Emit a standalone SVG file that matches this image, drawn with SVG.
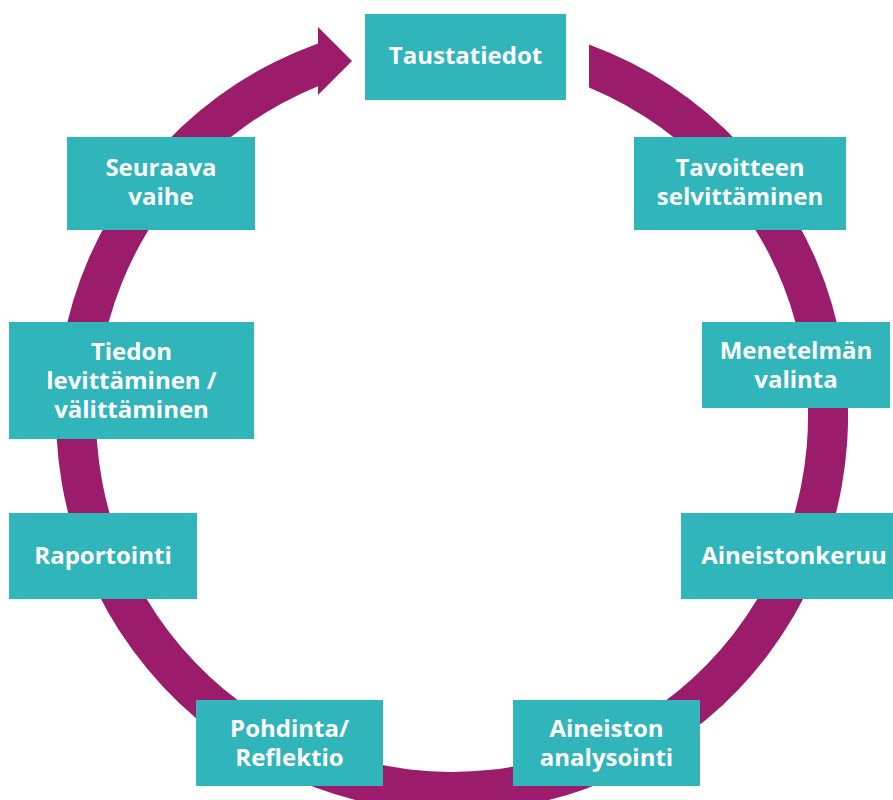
<svg xmlns="http://www.w3.org/2000/svg" width="893" height="800" viewBox="0 0 893 800">
  <style>
    .ring { fill: #9B1C6A; }
    .box { fill: #30B5BB; }
    .label { fill: #FFFFFF; font-family: "Open Sans", "Noto Sans", "Liberation Sans", sans-serif; font-weight: 700; font-size: 24px; text-anchor: middle; }
  </style>
  <rect width="893" height="800" fill="#FFFFFF"/>

  <!-- circular process arrow, centre (452,416) -->
  <g id="connectors">
    <path class="ring" d="M 589 44.45 A 396 396 0 1 1 318 43.4 L 318 27 L 352 61 L 318 95 L 318 86.2 A 356 356 0 1 0 589 87.4 Z"/>
  </g>

  <g id="taustatiedot">
    <rect class="box" x="365" y="14" width="201" height="86"/>
    <text class="label" x="465.5" y="64">Taustatiedot</text>
  </g>
  <g id="tavoitteen-selvittaminen">
    <rect class="box" x="634" y="137" width="212" height="93"/>
    <text class="label" x="740" y="176">Tavoitteen</text>
    <text class="label" x="740" y="205">selvittäminen</text>
  </g>
  <g id="menetelman-valinta">
    <rect class="box" x="702" y="322" width="188" height="86"/>
    <text class="label" x="796" y="359">Menetelmän</text>
    <text class="label" x="796" y="388">valinta</text>
  </g>
  <g id="aineistonkeruu">
    <rect class="box" x="681" y="513" width="226" height="86"/>
    <text class="label" x="794" y="564">Aineistonkeruu</text>
  </g>
  <g id="aineiston-analysointi">
    <rect class="box" x="513" y="700" width="187" height="86"/>
    <text class="label" x="606.5" y="737">Aineiston</text>
    <text class="label" x="606.5" y="766">analysointi</text>
  </g>
  <g id="pohdinta-reflektio">
    <rect class="box" x="196" y="700" width="187" height="86"/>
    <text class="label" x="289.5" y="737">Pohdinta/</text>
    <text class="label" x="289.5" y="766">Reflektio</text>
  </g>
  <g id="raportointi">
    <rect class="box" x="9" y="513" width="188" height="86"/>
    <text class="label" x="103" y="564">Raportointi</text>
  </g>
  <g id="tiedon-levittaminen">
    <rect class="box" x="9" y="322" width="245" height="117"/>
    <text class="label" x="131.5" y="360">Tiedon</text>
    <text class="label" x="131.5" y="389">levittäminen /</text>
    <text class="label" x="131.5" y="418">välittäminen</text>
  </g>
  <g id="seuraava-vaihe">
    <rect class="box" x="67" y="137" width="188" height="93"/>
    <text class="label" x="161" y="176">Seuraava</text>
    <text class="label" x="161" y="205">vaihe</text>
  </g>
</svg>
